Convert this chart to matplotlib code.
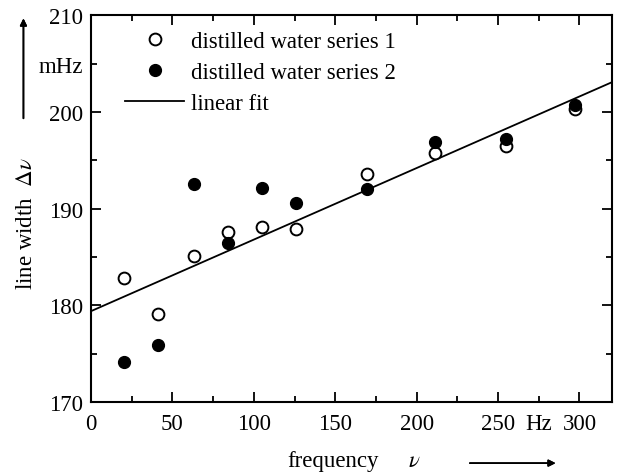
import matplotlib.pyplot as plt
import numpy as np

# frequency (Hz) and line width (mHz)
freq = [20, 41, 63, 84, 105, 126, 169.5, 211, 255, 297]
series1 = [182.8, 179.1, 185.1, 187.6, 188.1, 187.9, 193.6, 195.8, 196.5, 200.3]
series2 = [174.1, 175.9, 192.5, 186.4, 192.1, 190.6, 192.0, 196.9, 197.2, 200.7]
fit_intercept = 179.4
fit_slope = 0.074

x_major = [0, 50, 100, 150, 200, 250, 300]
x_minor = [25, 75, 125, 175, 225, 275]
x_minor_labels = ["", "", "", "", "", "Hz"]
y_major = [170, 180, 190, 200, 210]
y_minor = [175, 185, 195, 205]
y_minor_labels = ["", "", "", "mHz"]

plt.rcParams["font.family"] = ["Liberation Serif", "DejaVu Serif"]
plt.rcParams["mathtext.fontset"] = "stix"

fig = plt.figure(figsize=(6.17, 4.77), dpi=100)
ax = fig.add_axes([0.1475, 0.155, 0.8445, 0.811])

ax.plot(freq, series1, "o", ms=8.5, mfc="white", mec="black", mew=1.4,
        label="distilled water series 1", zorder=3)
ax.plot(freq, series2, "o", ms=8.5, mfc="black", mec="black",
        label="distilled water series 2", zorder=3)
fit_x = np.array([0, 320])
ax.plot(fit_x, fit_intercept + fit_slope * fit_x, color="black", lw=1.3,
        label="linear fit", zorder=2)

ax.set_xlim(0, 320)
ax.set_ylim(170, 210)
ax.set_xticks(x_major)
ax.set_xticks(x_minor, x_minor_labels, minor=True)
ax.set_yticks(y_major)
ax.set_yticks(y_minor, y_minor_labels, minor=True)
ax.tick_params(which="both", direction="in", top=True, right=True,
               labelsize=16.5, width=1.3)
ax.tick_params(which="major", length=7)
ax.tick_params(which="minor", length=4)
ax.tick_params(axis="x", which="both", pad=8)
ax.tick_params(axis="y", which="both", pad=6)
for sp in ax.spines.values():
    sp.set_linewidth(1.5)

ax.legend(loc="upper left", bbox_to_anchor=(0.035, 1.0), frameon=False,
          fontsize=16.4, handlelength=2.6, handletextpad=0.3,
          labelspacing=0.43, borderaxespad=0.3)

# axis labels with arrows, placed as in the reference
fig.text(0.465, 0.021, "frequency", fontsize=16.5, ha="left", va="baseline")
fig.text(0.661, 0.021, r"$\mathit{\nu}$", fontsize=16.5, ha="left",
         va="baseline")
fig.text(0.043, 0.532, r"line width  $\mathit{\Delta\nu}$", fontsize=16.5,
         rotation=90, ha="center", va="center")
fig.add_artist(plt.annotate("", xy=(0.905, 0.027), xytext=(0.757, 0.027),
                            xycoords="figure fraction",
                            arrowprops=dict(arrowstyle="-|>", lw=1.2,
                                            color="black", mutation_scale=10)))
fig.add_artist(plt.annotate("", xy=(0.038, 0.965), xytext=(0.038, 0.744),
                            xycoords="figure fraction",
                            arrowprops=dict(arrowstyle="-|>", lw=1.2,
                                            color="black", mutation_scale=10)))

fig.savefig("out.png", dpi=100)
